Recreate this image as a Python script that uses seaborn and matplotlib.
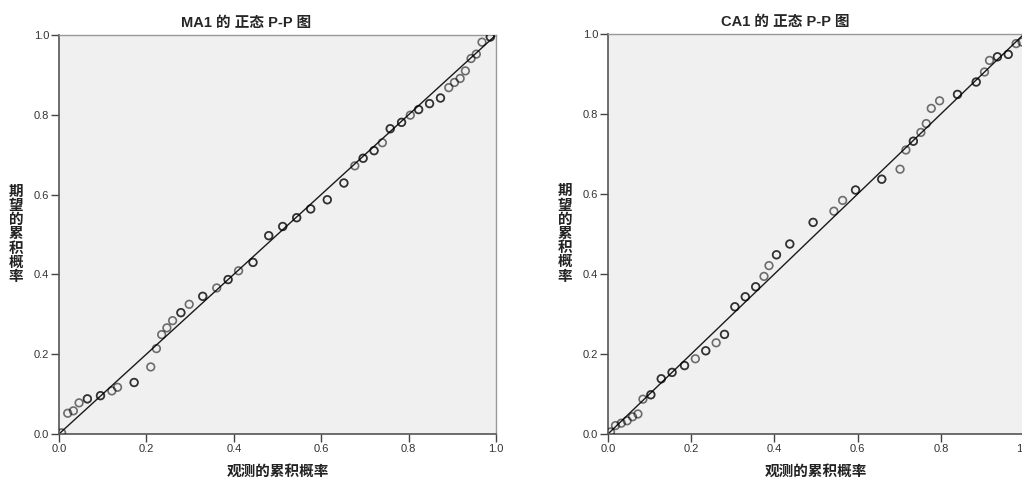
import numpy as np
import pandas as pd
import seaborn as sns
import matplotlib
matplotlib.use("Agg")
import matplotlib.pyplot as plt

# MA1 P-P points (observed cum. prob, expected cum. prob, how many points overlap)
ma1_obs = [0.006, 0.020, 0.033, 0.046, 0.065, 0.095, 0.121, 0.134, 0.172, 0.210,
           0.223, 0.235, 0.247, 0.260, 0.279, 0.298, 0.329, 0.361, 0.387, 0.411,
           0.444, 0.480, 0.512, 0.544, 0.576, 0.614, 0.652, 0.677, 0.696, 0.721,
           0.740, 0.758, 0.784, 0.804, 0.823, 0.848, 0.873, 0.892, 0.905, 0.918,
           0.930, 0.943, 0.955, 0.968, 0.987]
ma1_exp = [0.003, 0.052, 0.058, 0.078, 0.088, 0.096, 0.108, 0.117, 0.129, 0.168,
           0.214, 0.249, 0.266, 0.284, 0.304, 0.325, 0.345, 0.366, 0.387, 0.409,
           0.430, 0.497, 0.520, 0.542, 0.564, 0.587, 0.629, 0.672, 0.691, 0.710,
           0.730, 0.765, 0.781, 0.799, 0.813, 0.828, 0.842, 0.868, 0.881, 0.891,
           0.910, 0.941, 0.952, 0.982, 0.995]
ma1_n = [1, 1, 1, 1, 2, 2, 1, 1, 2, 1,
         1, 1, 1, 1, 2, 1, 2, 1, 2, 1,
         2, 2, 2, 2, 2, 2, 2, 1, 2, 2,
         1, 2, 2, 1, 2, 2, 2, 1, 1, 1,
         1, 1, 1, 1, 2]

# CA1 P-P points
ca1_obs = [0.006, 0.018, 0.032, 0.046, 0.059, 0.072, 0.084, 0.103, 0.128, 0.154,
           0.184, 0.210, 0.235, 0.260, 0.280, 0.305, 0.330, 0.355, 0.375, 0.387,
           0.405, 0.437, 0.493, 0.543, 0.564, 0.595, 0.658, 0.702, 0.716, 0.734,
           0.752, 0.765, 0.777, 0.797, 0.840, 0.885, 0.905, 0.917, 0.936, 0.962,
           0.981, 0.995]
ca1_exp = [0.005, 0.021, 0.027, 0.033, 0.043, 0.050, 0.087, 0.098, 0.138, 0.154,
           0.171, 0.188, 0.208, 0.228, 0.249, 0.318, 0.343, 0.368, 0.394, 0.421,
           0.448, 0.475, 0.529, 0.557, 0.584, 0.610, 0.637, 0.662, 0.710, 0.732,
           0.754, 0.776, 0.814, 0.833, 0.849, 0.880, 0.905, 0.934, 0.943, 0.949,
           0.976, 0.980]
ca1_n = [1, 1, 1, 1, 1, 1, 1, 2, 2, 2,
         2, 1, 2, 1, 2, 2, 2, 2, 1, 1,
         2, 2, 2, 1, 1, 2, 2, 1, 1, 2,
         1, 1, 1, 1, 2, 2, 1, 1, 2, 2,
         1, 1]

ref = [0.0, 1.0]
ticks = [0.0, 0.2, 0.4, 0.6, 0.8, 1.0]
tick_labels = ["0.0", "0.2", "0.4", "0.6", "0.8", "1.0"]

titles = ["MA1 的 正态 P-P 图", "CA1 的 正态 P-P 图"]
xlabel = "观测的累积概率"
ylabel = "期望的累积概率"

sns.set_style("white")
plt.rcParams['font.family'] = ['Liberation Sans', 'Noto Sans CJK SC', 'DejaVu Sans']

fig = plt.figure(figsize=(10.22, 4.79), dpi=100)
ax1 = fig.add_axes([0.0577, 0.094, 0.4276, 0.833])
ax2 = fig.add_axes([0.5949, 0.094, 0.4071, 0.835])

panels = [(ax1, ma1_obs, ma1_exp, ma1_n, titles[0]),
          (ax2, ca1_obs, ca1_exp, ca1_n, titles[1])]

for ax, obs, exp, n, title in panels:
    df = pd.DataFrame({"obs": np.repeat(obs, n), "exp": np.repeat(exp, n)})
    ax.set_facecolor("#f0f0f0")
    sns.lineplot(x=ref, y=ref, ax=ax, color="#1a1a1a", linewidth=1.0)
    sns.scatterplot(data=df, x="obs", y="exp", ax=ax, marker="o", s=30,
                    facecolors="none", edgecolor=(0, 0, 0, 0.55), linewidth=1.2,
                    zorder=3)
    ax.set_xlim(0, 1)
    ax.set_ylim(0, 1)
    ax.set_xticks(ticks)
    ax.set_xticklabels(tick_labels)
    ax.set_yticks(ticks)
    ax.set_yticklabels(tick_labels)
    ax.tick_params(axis="both", direction="out", length=6, width=1, color="#444444",
                   labelsize=8, labelcolor="#333333", pad=1, bottom=True, left=True)
    for side in ["top", "right"]:
        ax.spines[side].set_color("#999999")
        ax.spines[side].set_linewidth(1.0)
    for side in ["bottom", "left"]:
        ax.spines[side].set_color("#555555")
        ax.spines[side].set_linewidth(1.2)
    ax.set_title(title, x=0.427, fontsize=10.5, fontweight="bold", pad=6)
    ax.set_xlabel(xlabel, fontsize=10.5, fontweight="bold", color="#222222", labelpad=8)
    ax.set_ylabel("\n".join(ylabel), fontsize=10.5, fontweight="bold", rotation=0,
                  color="#222222", linespacing=1.02, va="center", ha="center", labelpad=13)

fig.savefig("out.png", dpi=100)
